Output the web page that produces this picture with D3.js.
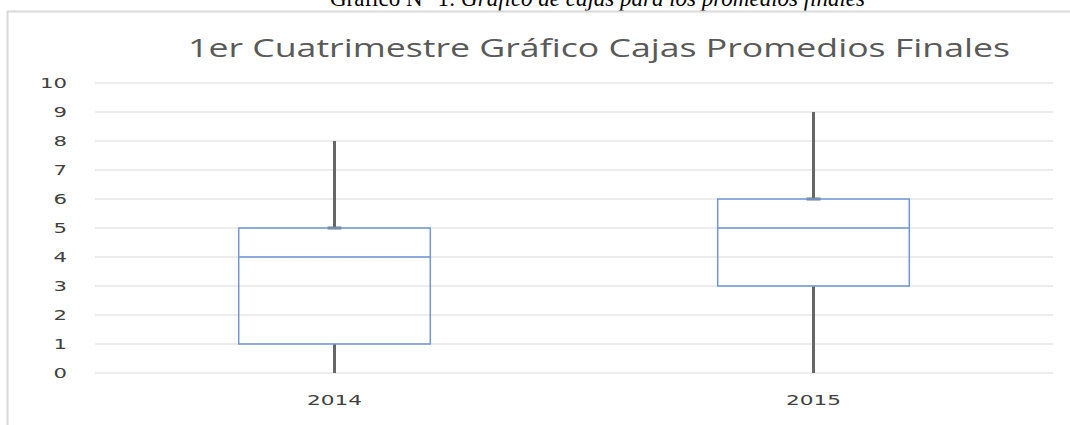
<!DOCTYPE html>
<html>
<head>
<meta charset="utf-8">
<script src="https://cdn.jsdelivr.net/npm/d3@7"></script>
<style>
  body { margin: 0; background: #fff; }
  svg { display: block; }
</style>
</head>
<body>
<svg id="chart"></svg>
<script>
    // data
    var years = ["2014", "2015"];
    var minVals = [0, 0];
    var q1Vals = [1, 3];
    var medianVals = [4, 5];
    var q3Vals = [5, 6];
    var maxVals = [8, 9];
    var yTicks = [0, 1, 2, 3, 4, 5, 6, 7, 8, 9, 10];

    var width = 1070;
    var height = 425;

    var margin = { top: 83, bottom: 52, left: 95, right: 17 };
    var bodyHeight = height - margin.top - margin.bottom;
    var bodyWidth = width - margin.left - margin.right;

    var boxes = years.map((y, i) => ({
      year: y, min: minVals[i], q1: q1Vals[i], median: medianVals[i], q3: q3Vals[i], max: maxVals[i]
    }));

    var svg = d3.select("#chart").attr("width", width).attr("height", height);

    // caption above the chart (cut off at the top)
    var cap = svg.append("text")
      .attr("x", 330).attr("y", 6)
      .attr("font-family", "'Liberation Serif', 'Times New Roman', serif")
      .attr("font-size", 24)
      .attr("fill", "#000")
      .attr("textLength", 535)
      .attr("lengthAdjust", "spacingAndGlyphs");
    cap.append("tspan").text("Gráfico N° 1: ");
    cap.append("tspan").attr("font-style", "italic").text("Gráfico de cajas para los promedios finales");

    // chart frame (only top and left edges visible)
    svg.append("line").attr("x1", 7).attr("x2", width).attr("y1", 11.5).attr("y2", 11.5)
      .attr("stroke", "#d9d9d9").attr("stroke-width", 2);
    svg.append("line").attr("x1", 7.5).attr("x2", 7.5).attr("y1", 11).attr("y2", height)
      .attr("stroke", "#d9d9d9").attr("stroke-width", 2);

    svg.append("text")
      .attr("x", 188).attr("y", 57)
      .attr("font-family", "'Open Sans', 'DejaVu Sans', sans-serif")
      .attr("font-size", 25)
      .attr("fill", "#595959")
      .attr("textLength", 822)
      .attr("lengthAdjust", "spacingAndGlyphs")
      .text("1er Cuatrimestre Gráfico Cajas Promedios Finales");

    var xScale = d3.scaleBand()
      .range([0, bodyWidth])
      .domain(years)
      .padding(0);

    var yScale = d3.scaleLinear()
      .range([bodyHeight, 0])
      .domain([0, 10]);

    var body = svg.append("g")
      .attr("transform", `translate(${margin.left},${margin.top})`);

    // gridlines
    body.selectAll(".grid").data(yTicks).enter().append("line")
      .attr("x1", 0).attr("x2", bodyWidth)
      .attr("y1", d => yScale(d)).attr("y2", d => yScale(d))
      .attr("stroke", "#e6e6e6").attr("stroke-width", 1.5);

    // y axis labels
    var yAxis = d3.axisLeft(yScale).tickValues(yTicks).tickSize(0).tickPadding(28);
    var yg = body.append("g").call(yAxis);
    yg.select(".domain").remove();
    yg.selectAll("text")
      .attr("font-family", "'DejaVu Sans', sans-serif")
      .attr("font-size", 14)
      .attr("fill", "#404040")
      .attr("lengthAdjust", "spacingAndGlyphs")
      .attr("textLength", d => String(d).length * 13.5);

    // x axis labels
    var xAxis = d3.axisBottom(xScale).tickSize(0).tickPadding(22);
    var xg = body.append("g").attr("transform", `translate(0,${bodyHeight})`).call(xAxis);
    xg.select(".domain").remove();
    xg.selectAll("text")
      .attr("font-family", "'DejaVu Sans', sans-serif")
      .attr("font-size", 14)
      .attr("fill", "#404040")
      .attr("lengthAdjust", "spacingAndGlyphs")
      .attr("textLength", 55);

    var boxW = xScale.bandwidth() * 0.4;
    var g = body.selectAll(".box").data(boxes).enter().append("g")
      .attr("transform", d => `translate(${xScale(d.year) + xScale.bandwidth() / 2},0)`);

    // whiskers
    g.append("line").attr("x1", 0).attr("x2", 0)
      .attr("y1", d => yScale(d.max)).attr("y2", d => yScale(d.q3))
      .attr("stroke", "#666").attr("stroke-width", 3);
    g.append("line").attr("x1", 0).attr("x2", 0)
      .attr("y1", d => yScale(d.q1)).attr("y2", d => yScale(d.min))
      .attr("stroke", "#666").attr("stroke-width", 3);
    g.append("line").attr("x1", -7).attr("x2", 7)
      .attr("y1", d => yScale(d.q3)).attr("y2", d => yScale(d.q3))
      .attr("stroke", "#777").attr("stroke-width", 3);

    // boxes
    g.append("rect")
      .attr("x", -boxW / 2).attr("width", boxW)
      .attr("y", d => yScale(d.q3))
      .attr("height", d => yScale(d.q1) - yScale(d.q3))
      .attr("fill", "none")
      .attr("stroke", "#6f96d6").attr("stroke-width", 1.5);
    g.append("line").attr("x1", -boxW / 2).attr("x2", boxW / 2)
      .attr("y1", d => yScale(d.median)).attr("y2", d => yScale(d.median))
      .attr("stroke", "#6f96d6").attr("stroke-width", 1.5);
</script>
</body>
</html>
